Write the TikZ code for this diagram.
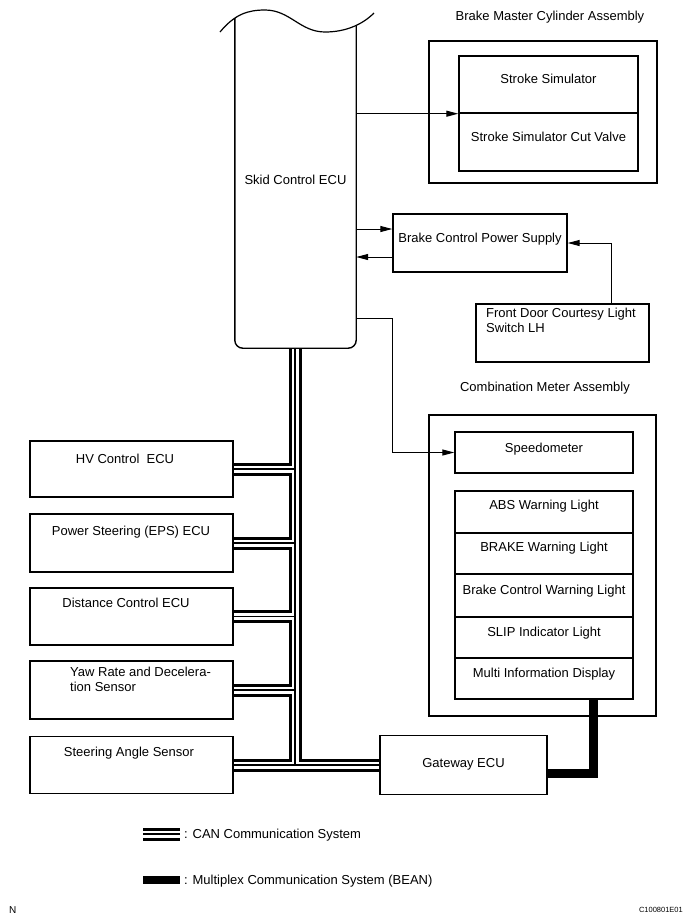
\documentclass[tikz,border=0pt]{standalone}
\usepackage{fontspec}
\setmainfont{Liberation Sans}
\usetikzlibrary{arrows.meta,calc}
\pgfdeclarelayer{paper}
\pgfdeclarelayer{bus}
\pgfsetlayers{paper,bus,main}
\tikzset{
 box/.style={draw, line width=1.4pt, inner sep=0pt},
 txt/.style={font=\fontsize{13pt}{15pt}\selectfont, inner sep=0pt, anchor=base},
 arr/.style={line width=1pt, -{Triangle[length=12pt,width=6pt]}},
 can/.style={line width=1.2pt, preaction={draw, black, line width=13pt}, preaction={draw, white, line width=7pt}},
 bean/.style={line width=9pt},
}
\begin{document}
\begin{tikzpicture}[x=1pt,y=-1pt]
\begin{pgfonlayer}{paper}
\fill[white] (0,0) rectangle (690,922);
\end{pgfonlayer}
\useasboundingbox (0,0) rectangle (690,922);

% Skid Control ECU
\node[inner sep=0pt, minimum width=121pt, minimum height=348pt] (ecu) at (295.5,174) {};
\begin{scope}
\clip (220,32) .. controls (235,14) and (248,10) .. (265,10) .. controls (290,10) and (300,32) .. (325,32) .. controls (345,32) and (362,25) .. (374,13) -- (374,370) -- (220,370) -- cycle;
\draw[line width=1.4pt, rounded corners=8pt] (ecu.north west) -- (ecu.south west) -- (ecu.south east) -- (ecu.north east);
\end{scope}
\draw[line width=1.2pt] (220,32) .. controls (235,14) and (248,10) .. (265,10) .. controls (290,10) and (300,32) .. (325,32) .. controls (345,32) and (362,25) .. (374,13);
\node[txt] (ecut) at (295.5,184.5) {Skid Control ECU};

% Brake Master Cylinder Assembly
\node[txt] (bmcl) at (550,20.5) {Brake Master Cylinder Assembly};
\node[box, minimum width=228pt, minimum height=142pt] (bmc) at (543,112) {};
\node[box, minimum width=179pt, minimum height=57pt] (ss) at (548.5,84.5) {};
\node[txt] (sst) at (548.5,83.5) {Stroke Simulator};
\node[box, minimum width=179pt, minimum height=58pt] (sscv) at (548.5,142) {};
\node[txt] (sscvt) at (548.5,141.5) {Stroke Simulator Cut Valve};

% Brake Control Power Supply
\node[box, minimum width=174pt, minimum height=58pt] (bcps) at (480,243) {};
\node[txt] (bcpst) at (480,242.5) {Brake Control Power Supply};

% Front Door Courtesy Light Switch
\node[box, minimum width=173pt, minimum height=58pt] (fdcl) at (562.5,333) {};
\node[txt, anchor=base west] (fdt1) at (486,317.5) {Front Door Courtesy Light};
\node[txt, anchor=base west] (fdt2) at (486,332.5) {Switch LH};

% Combination Meter Assembly
\node[txt] (cmal) at (545,391.5) {Combination Meter Assembly};
\node[box, minimum width=227pt, minimum height=301pt] (cma) at (542.5,565.5) {};
\node[box, minimum width=178pt, minimum height=41pt] (spd) at (544,452.5) {};
\node[txt] (spdt) at (544,452.5) {Speedometer};
\node[box, minimum width=178pt, minimum height=42pt] (c1) at (544,512) {};
\node[txt] (c1t) at (544,509.5) {ABS Warning Light};
\node[box, minimum width=178pt, minimum height=41pt] (c2) at (544,553.5) {};
\node[txt] (c2t) at (544,551.5) {BRAKE Warning Light};
\node[box, minimum width=178pt, minimum height=43pt] (c3) at (544,595.5) {};
\node[txt] (c3t) at (544,594.5) {Brake Control Warning Light};
\node[box, minimum width=178pt, minimum height=41pt] (c4) at (544,637.5) {};
\node[txt] (c4t) at (544,636.5) {SLIP Indicator Light};
\node[box, minimum width=178pt, minimum height=41pt] (c5) at (544,678.5) {};
\node[txt] (c5t) at (544,677.5) {Multi Information Display};

% Gateway
\node[box, minimum width=167pt, minimum height=59pt] (gw) at (463.5,765) {};
\node[txt] (gwt) at (463.5,767.5) {Gateway ECU};

% Left ECUs
\node[box, minimum width=203pt, minimum height=56pt] (hv) at (131.5,469) {};
\node[txt] (hvt) at (125,463.5) {HV Control\ \ ECU};
\node[box, minimum width=203pt, minimum height=58pt] (eps) at (131.5,543) {};
\node[txt] (epst) at (131,535.5) {Power Steering (EPS) ECU};
\node[box, minimum width=203pt, minimum height=57pt] (dist) at (131.5,616.5) {};
\node[txt] (distt) at (126,607.5) {Distance Control ECU};
\node[box, minimum width=203pt, minimum height=58pt] (yaw) at (131.5,690) {};
\node[txt, anchor=base west] (yawt1) at (70,676.5) {Yaw Rate and Decelera-};
\node[txt, anchor=base west] (yawt2) at (70,691.5) {tion Sensor};
\node[box, minimum width=203pt, minimum height=57pt] (sas) at (131.5,765) {};
\node[txt] (sast) at (129,756.5) {Steering Angle Sensor};

% CAN bus (behind boxes)
\coordinate (tb) at (295,765);
\begin{pgfonlayer}{bus}
\draw[can] (ecu.south -| tb) -- (tb)
  (sas.east) -- (gw.west)
  (hv.east) -- (hv.east -| tb)
  (eps.east) -- (eps.east -| tb)
  (dist.east) -- (dist.east -| tb)
  (yaw.east) -- (yaw.east -| tb);
\end{pgfonlayer}

% BEAN
\coordinate (bk) at (593,773);
\draw[bean] ([yshift=-8pt]gw.east) -| (c5.south -| bk);

% Arrows
\draw[arr] (ecu.east |- ss.south) -- (ss.south west);
\coordinate (bp1) at ([yshift=14pt]bcps.west);
\coordinate (bp2) at ([yshift=-14pt]bcps.west);
\draw[arr] (bp1 -| ecu.east) -- (bp1);
\draw[arr] (bp2) -- (bp2 -| ecu.east);
\coordinate (fd) at (611,0);
\draw[arr] (fdcl.north -| fd) |- (bcps.east);
\coordinate (sk) at (392,318);
\draw[arr] (ecu.east |- sk) -- (sk) |- (spd.west);

% Legend
\coordinate (lc1) at (143,834);
\coordinate (lc2) at (180,834);
\draw[can] (lc1) -- (lc2);
\node[txt, anchor=base west] (lct) at (184,838.5) {: CAN Communication System};
\coordinate (lb1) at (143,880);
\coordinate (lb2) at (180,880);
\draw[bean, line width=8pt] (lb1) -- (lb2);
\node[txt, anchor=base west] (lbt) at (184,884.5) {: Multiplex Communication System (BEAN)};

% Corner marks
\node[font=\fontsize{10pt}{12pt}\selectfont, anchor=base west, inner sep=0pt] (nmark) at (9,913) {N};
\node[font=\fontsize{7.5pt}{9pt}\selectfont, anchor=base east, inner sep=0pt] (code) at (683,912) {C100801E01};
\end{tikzpicture}
\end{document}
